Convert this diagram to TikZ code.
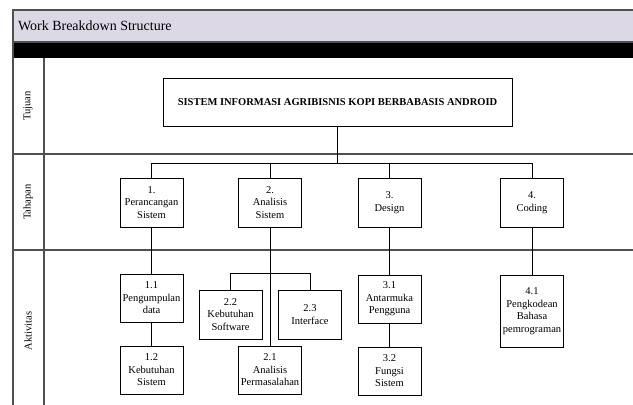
\documentclass[tikz,border=0pt]{standalone}
\usepackage{fontspec}
\setmainfont{Liberation Serif}
\definecolor{hdr}{RGB}{220,216,230}
\definecolor{frm}{RGB}{80,80,80}
\begin{document}
\begin{tikzpicture}[x=1pt,y=-1pt,
  wbox/.style={draw=black,line width=0.8pt,fill=white,align=center,inner sep=1pt,
    minimum width=63pt,minimum height=49pt,font=\fontsize{10.5}{12.5}\selectfont},
  frame/.style={draw=frm,line width=2pt},
  conn/.style={draw=black,line width=0.8pt},
  lane/.style={rotate=90,font=\fontsize{10.5}{12.5}\selectfont}]
\useasboundingbox (0,0) rectangle (633,405);
% frame
\fill[hdr] (12.5,10) rectangle (640,42);
\fill[black] (12.5,42) rectangle (640,58);
\draw[frame] (640,10) -- (12.5,10) -- (12.5,410);
\draw[frame] (12.5,42) -- (640,42);
\draw[frame] (44,58) -- (44,410);
\draw[frame] (12.5,154) -- (640,154);
\draw[frame] (12.5,250) -- (640,250);
\node[anchor=west,font=\fontsize{14}{16}\selectfont] (title) at (14.5,26) {Work Breakdown Structure};
\node[lane] (l1) at (28,106) {Tujuan};
\node[lane] (l2) at (28,202) {Tahapan};
\node[lane] (l3) at (28,331) {Aktivitas};
% nodes
\node[wbox,minimum width=349pt,minimum height=48pt,font=\bfseries\fontsize{10.5}{12.5}\selectfont] (top) at (337.5,102) {SISTEM INFORMASI AGRIBISNIS KOPI BERBABASIS ANDROID};
\coordinate (bus) at (337.5,163);
\coordinate (br) at (270,273);
\node[wbox] (b1) at (151.5,202.5) {1.\\Perancangan\\Sistem};
\node[wbox] (b2) at (270,202.5) {2.\\Analisis\\Sistem};
\node[wbox] (b3) at (389.5,202.5) {3.\\Design};
\node[wbox] (b4) at (532,202.5) {4.\\Coding};
\node[wbox,minimum height=48pt] (a11) at (151.5,298) {1.1\\Pengumpulan\\data};
\node[wbox,minimum height=48pt] (a12) at (151.5,370) {1.2\\Kebutuhan\\Sistem};
\node[wbox] (a22) at (230.5,314.5) {2.2\\Kebutuhan\\Software};
\node[wbox] (a23) at (310,314.5) {2.3\\Interface};
\node[wbox,minimum height=48pt] (a21) at (270,370) {2.1\\Analisis\\Permasalahan};
\node[wbox,minimum height=48pt] (a31) at (389.5,299) {3.1\\Antarmuka\\Pengguna};
\node[wbox,minimum height=48pt] (a32) at (389.5,371) {3.2\\Fungsi\\Sistem};
\node[wbox,minimum height=72pt] (a41) at (532,311) {4.1\\Pengkodean\\Bahasa\\pemrograman};
% connectors
\draw[conn] (top.south) -- (top.south |- bus);
\draw[conn] (b1.north) |- (b4.north |- bus) -- (b4.north);
\draw[conn] (b2.north) -- (b2.north |- bus);
\draw[conn] (b3.north) -- (b3.north |- bus);
\draw[conn] (b1.south) -- (a11.north);
\draw[conn] (a11.south) -- (a12.north);
\draw[conn] (b2.south) -- (a21.north);
\draw[conn] (a22.north) |- (a23.north |- br) -- (a23.north);
\draw[conn] (b3.south) -- (a31.north);
\draw[conn] (a31.south) -- (a32.north);
\draw[conn] (b4.south) -- (a41.north);
\end{tikzpicture}
\end{document}
